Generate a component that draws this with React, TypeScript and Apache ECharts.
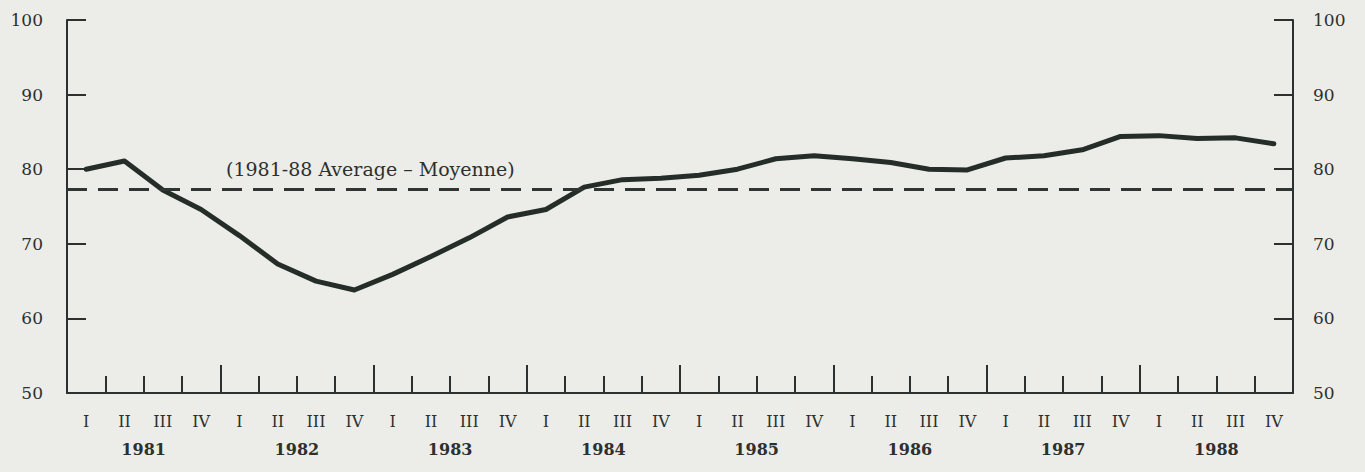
import React, { useEffect, useRef } from "react";
import * as echarts from "echarts";

const quarters: string[] = [];
const years = ["1981", "1982", "1983", "1984", "1985", "1986", "1987", "1988"];
const quarterNames = ["I", "II", "III", "IV"];
years.forEach((y) => quarterNames.forEach((q) => quarters.push(`${q}-${y}`)));

const values = [
  80.0, 81.1, 77.2, 74.6, 71.1, 67.3, 65.0, 63.8,
  65.9, 68.3, 70.8, 73.6, 74.6, 77.6, 78.6, 78.8,
  79.2, 80.0, 81.4, 81.8, 81.4, 80.9, 80.0, 79.9,
  81.5, 81.8, 82.6, 84.4, 84.5, 84.1, 84.2, 83.4,
];

const averageValue = 77.3;
const averageLabel = "(1981-88 Average \u2013 Moyenne)";
const yTicks = { min: 50, max: 100, interval: 10 };

const FONT = "DejaVu Serif";
const INK = "#2c302e";

export default function App() {
  const ref = useRef<HTMLDivElement>(null);
  useEffect(() => {
    document.body.style.margin = "0";
    const chart = echarts.init(ref.current!, null, { renderer: "svg" });
    const yAxisBase = (pos: "left" | "right") => ({
      type: "value",
      position: pos,
      min: yTicks.min,
      max: yTicks.max,
      interval: yTicks.interval,
      splitLine: { show: false },
      axisLine: { show: true, lineStyle: { color: INK, width: 2 } },
      axisTick: { show: true, inside: true, length: 19, lineStyle: { color: INK, width: 2 } },
      axisLabel: {
        margin: pos === "left" ? 24 : 20,
        color: INK,
        fontFamily: FONT,
        fontSize: 17,
      },
    });
    chart.setOption({
      animation: false,
      backgroundColor: "#ecece8",
      grid: { left: 67, right: 72, top: 20, bottom: 79, containLabel: false },
      xAxis: [
        {
          type: "category",
          position: "bottom",
          data: quarters,
          boundaryGap: true,
          axisLine: { show: true, lineStyle: { color: INK, width: 2 } },
          axisTick: { show: true, inside: true, length: 17, interval: 0, lineStyle: { color: INK, width: 2 } },
          axisLabel: {
            interval: 0,
            margin: 20,
            color: INK,
            fontFamily: FONT,
            fontSize: 16,
            formatter: (v: string) => v.split("-")[0],
          },
          splitLine: { show: false },
        },
        {
          type: "category",
          position: "bottom",
          data: years,
          boundaryGap: true,
          axisLine: { show: false },
          axisTick: { show: true, inside: true, length: 28, interval: 0, lineStyle: { color: INK, width: 2 } },
          axisLabel: {
            interval: 0,
            margin: 48,
            color: INK,
            fontFamily: FONT,
            fontSize: 16,
            fontWeight: "bold",
          },
          splitLine: { show: false },
        },
      ],
      yAxis: [yAxisBase("left"), yAxisBase("right")],
      series: [
        {
          type: "line",
          xAxisIndex: 0,
          yAxisIndex: 0,
          data: values,
          symbol: "none",
          smooth: false,
          lineStyle: { color: "#252d29", width: 5, cap: "round", join: "round" },
          markLine: {
            silent: true,
            symbol: "none",
            label: { show: false },
            lineStyle: { color: "#2f3532", width: 3, type: [20, 11] },
            data: [{ yAxis: averageValue }],
          },
        },
      ],
      graphic: [
        {
          type: "text",
          x: 226,
          y: 169,
          style: {
            text: averageLabel,
            fontFamily: FONT,
            fontSize: 19,
            fill: INK,
            verticalAlign: "middle",
            align: "left",
          },
        },
      ],
    });
    return () => chart.dispose();
  }, []);
  return <div ref={ref} style={{ width: 1365, height: 472 }} />;
}
